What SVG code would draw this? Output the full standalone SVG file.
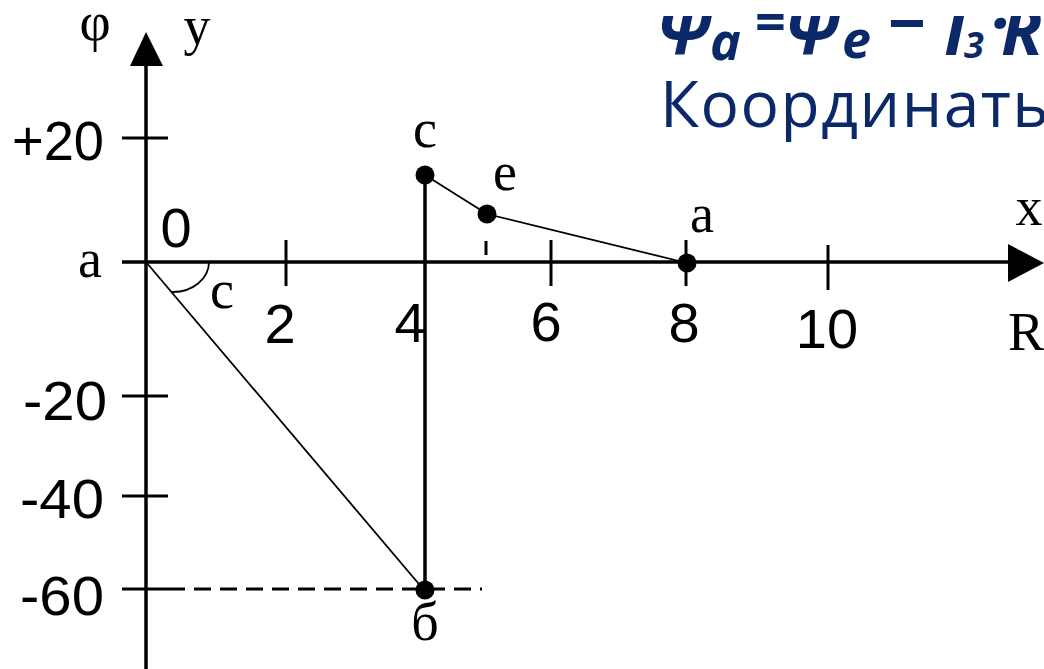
<svg xmlns="http://www.w3.org/2000/svg" width="1044" height="669" viewBox="0 0 1044 669">
<style>
.ax{stroke:#000;stroke-width:3.5;fill:none}
.tk{stroke:#000;stroke-width:3;fill:none}
.thin{stroke:#000;stroke-width:1.8;fill:none}
.dg{font-family:"Liberation Sans",Arial,sans-serif;font-size:56px;fill:#000;text-anchor:middle}
.lt{font-family:"Liberation Serif","Times New Roman",serif;font-size:54px;fill:#000;text-anchor:middle}
.dot{fill:#000}
.ttl{font-family:"Open Sans","Noto Sans",sans-serif;fill:#0B2868}
.bi{font-weight:bold;font-style:italic}
</style>
<rect width="1044" height="669" fill="#fff"/>

<g id="axes">
<line class="ax" x1="146" y1="60" x2="146" y2="669"/>
<polygon points="146,32 130,66 163,66" fill="#000"/>
<line class="ax" x1="122" y1="262" x2="1012" y2="262"/>
<polygon points="1044,263 1008,244 1008,282" fill="#000"/>
<line class="tk" x1="122" y1="138" x2="168" y2="138"/>
<line class="tk" x1="122" y1="396" x2="168" y2="396"/>
<line class="tk" x1="122" y1="496" x2="168" y2="496"/>
<line class="tk" x1="122" y1="589" x2="168" y2="589"/>
<line class="tk" x1="286" y1="240" x2="286" y2="286"/>
<line class="tk" x1="551" y1="240" x2="551" y2="286"/>
<line class="tk" x1="686" y1="240" x2="686" y2="286"/>
<line class="tk" x1="828" y1="245" x2="828" y2="290"/>
<line class="tk" x1="486" y1="241" x2="486" y2="255"/>
<text class="lt" x="95" y="40" font-size="46">φ</text>
<text class="lt" x="197" y="44" font-size="56">y</text>
<text class="dg" x="58" y="160" textLength="92" lengthAdjust="spacingAndGlyphs">+20</text>
<text class="dg" x="65" y="420" textLength="84" lengthAdjust="spacingAndGlyphs">-20</text>
<text class="dg" x="62" y="518" textLength="84" lengthAdjust="spacingAndGlyphs">-40</text>
<text class="dg" x="62" y="615" textLength="84" lengthAdjust="spacingAndGlyphs">-60</text>
<text class="dg" x="176" y="247">0</text>
<text class="dg" x="280" y="343">2</text>
<text class="dg" x="410" y="342">4</text>
<text class="dg" x="546" y="341">6</text>
<text class="dg" x="684" y="342">8</text>
<text class="dg" x="827" y="348">10</text>
<text class="lt" x="1029" y="225" font-size="52">x</text>
<text class="lt" x="1008" y="350" font-size="60" style="text-anchor:start">R</text>
<text class="lt" x="90" y="277">a</text>
</g>

<g id="connectors">
<line class="thin" x1="146" y1="262" x2="424" y2="590"/>
<line class="ax" x1="425" y1="175" x2="425" y2="590"/>
<line class="thin" x1="425" y1="175" x2="487" y2="214" stroke-width="2.2"/>
<line class="thin" x1="487" y1="214" x2="687" y2="263" stroke-width="2.2"/>
<line class="tk" x1="168" y1="589" x2="482" y2="589" stroke-dasharray="17,9"/>
<path class="thin" d="M209,262 A36,30 0 0 1 172,292" stroke-width="2.2"/>
</g>

<g id="angle-label">
<text class="lt" x="222" y="308">c</text>
</g>

<g id="node-c">
<circle class="dot" cx="425" cy="175" r="9.5"/>
<text class="lt" x="425" y="147">c</text>
</g>
<g id="node-e">
<circle class="dot" cx="487" cy="214" r="9.5"/>
<text class="lt" x="505" y="190">e</text>
</g>
<g id="node-a">
<circle class="dot" cx="687" cy="263" r="9.5"/>
<text class="lt" x="702" y="232">a</text>
</g>
<g id="node-b">
<circle class="dot" cx="425" cy="590" r="9.5"/>
<text class="lt" x="425" y="640">б</text>
</g>

<g id="title">
<text class="ttl bi" font-size="68"><tspan x="656" y="54">Ψ</tspan><tspan x="710" y="60" font-size="52">a</tspan><tspan x="784" y="54">Ψ</tspan><tspan x="842" y="58" font-size="52">e</tspan><tspan x="888" y="47" font-size="66" font-style="normal">−</tspan><tspan x="944" y="55">I</tspan><tspan x="964" y="58" font-size="36">3</tspan><tspan x="990" y="47">·</tspan><tspan x="1001" y="55">R</tspan></text>
<rect x="640" y="0" width="404" height="16" fill="#fff"/>
<text class="ttl" font-weight="bold" font-size="54" x="755" y="41">=</text>
<text class="ttl" x="660" y="127" font-size="64" letter-spacing="1.5">Координаты</text>
</g>
</svg>
